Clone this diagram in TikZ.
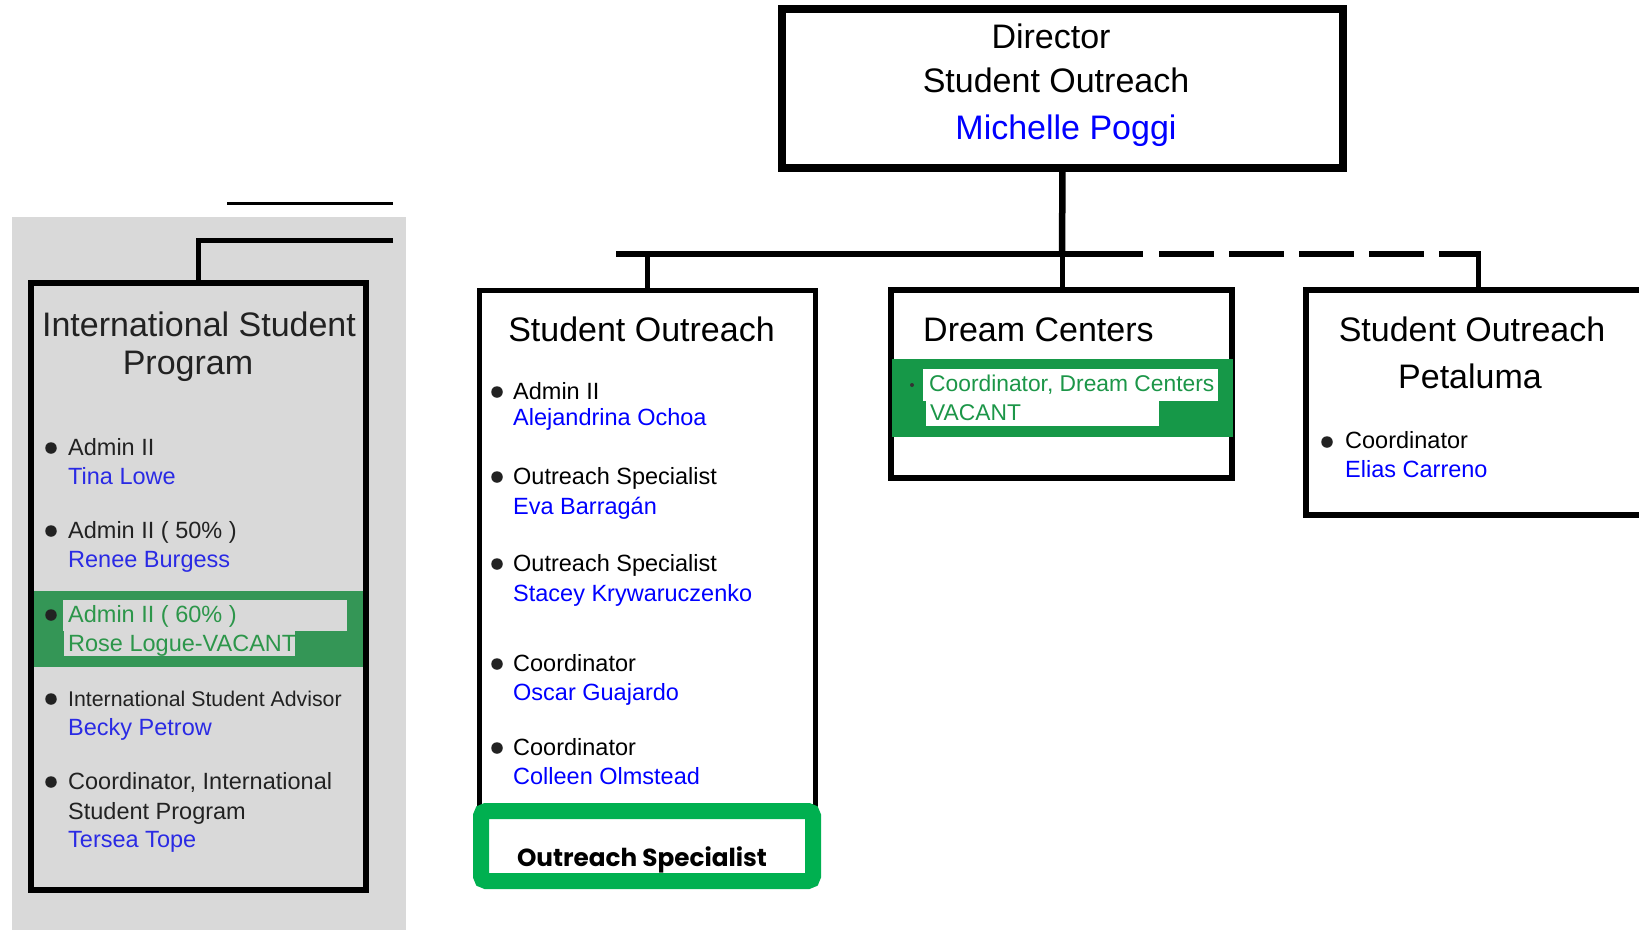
\documentclass[tikz,border=0pt]{standalone}
\usepackage{fontspec}
\setmainfont{Liberation Sans}
\newfontfamily\popfont{Poppins}
\usepackage{graphicx}
\definecolor{isgray}{RGB}{217,217,217}
\definecolor{tgray}{RGB}{34,34,34}
\definecolor{isblue}{RGB}{42,42,228}
\definecolor{isband}{RGB}{52,150,86}
\definecolor{istext}{RGB}{44,150,74}
\definecolor{dcband}{RGB}{22,152,72}
\definecolor{dctext}{RGB}{28,150,72}
\definecolor{ogreen}{RGB}{0,176,80}
\begin{document}
\begin{tikzpicture}[x=1pt,y=-1pt,
  box/.style={draw=black,line width=6pt,inner sep=0pt,outer sep=0pt},
  conn/.style={draw=black,line width=5pt},
  ttl/.style={font=\fontsize{34}{40}\selectfont,anchor=base,inner sep=0pt},
  itm/.style={font=\fontsize{23.5}{28}\selectfont,anchor=base west,inner sep=0pt},
  nm/.style={itm,text=blue},
  blt/.style={circle,fill=tgray,inner sep=0pt,minimum size=11.5pt},
  lab/.style={fill=#1,inner sep=0pt,outer sep=0pt,anchor=north west}]
\useasboundingbox (0,0) rectangle (1639,930);
\fill[white] (0,0) rectangle (1639,930);

% ---------- International Student Program (gray panel) ----------
\fill[isgray] (12,217) rectangle (406,930);
\coordinate (tla) at (227,203);
\coordinate (tlb) at (393,203);
\draw[line width=3pt] (tla) -- (tlb);
\fill[isband] (33,591) rectangle (363,667);
\node[box,minimum width=335pt,minimum height=607pt] (is) at (198.5,586.5) {};
\coordinate (isin) at (393,240);
\draw[conn] (isin) -- (isin -| is.north) -- (is.north);

\node[ttl,text=tgray] (ist1) at (199,336) {International Student};
\node[ttl,text=tgray] (ist2) at (188,374) {Program};

\begin{scope}[every node/.append style={font=\fontsize{23.7}{28}\selectfont}]
\node[blt] (isb1) at (51,448) {};
\node[itm,text=tgray] (isi1) at (68,455) {Admin II};
\node[itm,text=isblue] (isn1) at (68,484) {Tina Lowe};
\node[blt] (isb2) at (51,531) {};
\node[itm,text=tgray] (isi2) at (68,538) {Admin II ( 50\% )};
\node[itm,text=isblue] (isn2) at (68,567) {Renee Burgess};
\fill[isgray] (63,600) rectangle (347,631);
\fill[isgray] (64,631) rectangle (295,656);
\node[blt] (isb3) at (51,615) {};
\node[itm,text=istext] (isi3) at (68,622) {Admin II ( 60\% )};
\begin{scope}
\clip (64,600) rectangle (295,660);
\node[itm,text=istext] (isn3) at (68,651) {Rose Logue-VACANT};
\end{scope}
\node[blt] (isb4) at (51,699) {};
\node[itm,text=tgray,font=\fontsize{21.3}{26}\selectfont] (isi4) at (68,706) {International Student Advisor};
\node[itm,text=isblue] (isn4) at (68,735) {Becky Petrow};
\node[blt] (isb5) at (51,782) {};
\node[itm,text=tgray] (isi5a) at (68,789) {Coordinator, International};
\node[itm,text=tgray] (isi5b) at (68,819) {Student Program};
\node[itm,text=isblue] (isn5) at (68,847) {Tersea Tope};
\end{scope}

% ---------- Director ----------
\node[box,line width=8pt,minimum width=561pt,minimum height=159pt] (dir) at (1062.5,88.5) {};
\node[ttl] (dirt1) at (1051,48) {Director};
\node[ttl] (dirt2) at (1056,92) {Student Outreach};
\node[ttl,text=blue] (dirt3) at (1066,139) {Michelle Poggi};

% ---------- Bus ----------
\coordinate (busL) at (616,254);
\coordinate (busM) at (1062,254);
\coordinate (busS) at (1143,254);
\coordinate (busD) at (1159,254);
\coordinate (busR) at (1478,254);

% ---------- Student Outreach ----------
\node[box,line width=5pt,minimum width=336pt,minimum height=516pt] (so) at (647,548) {};
\node[ttl] (sot) at (641.5,341) {Student Outreach};
\node[blt] (sob1) at (497,392) {};
\node[itm] (soi1) at (513,399) {Admin II};
\node[nm] (son1) at (513,425) {Alejandrina Ochoa};
\node[blt] (sob2) at (497,477) {};
\node[itm] (soi2) at (513,484) {Outreach Specialist};
\node[nm] (son2) at (513,514) {Eva Barragán};
\node[blt] (sob3) at (497,564) {};
\node[itm] (soi3) at (513,571) {Outreach Specialist};
\node[nm] (son3) at (513,601) {Stacey Krywaruczenko};
\node[blt] (sob4) at (497,664) {};
\node[itm] (soi4) at (513,671) {Coordinator};
\node[nm] (son4) at (513,700) {Oscar Guajardo};
\node[blt] (sob5) at (497,748) {};
\node[itm] (soi5) at (513,755) {Coordinator};
\node[nm] (son5) at (513,784) {Colleen Olmstead};
\node[draw=ogreen,fill=white,line width=16pt,rounded corners=5pt,minimum width=332pt,minimum height=70pt,inner sep=0pt] (os) at (647,846) {};
\node[anchor=base,inner sep=0pt,font=\popfont\bfseries\fontsize{27}{30}\selectfont] (ost) at (642,866) {\resizebox{250pt}{!}{Outreach Specialist}};

% ---------- Dream Centers ----------
\node[box,minimum width=341pt,minimum height=188pt] (dc) at (1061.5,384) {};
\node[ttl,anchor=base west] (dct) at (923,341) {Dream Centers};
\fill[dcband] (892,359) rectangle (1233,437);
\fill[white] (923,369) rectangle (1218,401);
\fill[white] (926,401) rectangle (1159,426);
\fill[black!80] (912,385) circle (2pt);
\node[itm,text=dctext,font=\fontsize{22.8}{27}\selectfont] (dci1) at (929,391) {Coordinator, Dream Centers};
\node[itm,text=dctext,font=\fontsize{22.8}{27}\selectfont] (dcn1) at (930,420) {VACANT};

% ---------- Petaluma ----------
\node[box,minimum width=394pt,minimum height=225pt] (pet) at (1503,402.5) {};
\node[ttl] (pet1) at (1472,341) {Student Outreach};
\node[ttl] (pet2) at (1470,388) {Petaluma};
\node[blt] (petb) at (1327,442) {};
\node[itm] (peti) at (1345,448) {Coordinator};
\node[nm] (petn) at (1345,477) {Elias Carreno};

% ---------- Connectors ----------
\draw[conn,line width=6.5pt] (dir.south) -- (busM);
\draw[conn,line width=6pt] (busL) -- (busS);
\draw[conn,line width=6pt,dash pattern=on 55pt off 15pt] (busD) -- ([xshift=2.5pt]busR);
\draw[conn] (so.north |- busL) -- (so.north);
\draw[conn] (busM) -- (busM |- dc.north);
\draw[conn] ([yshift=3pt]busR) -- (busR |- pet.north);
\end{tikzpicture}
\end{document}
